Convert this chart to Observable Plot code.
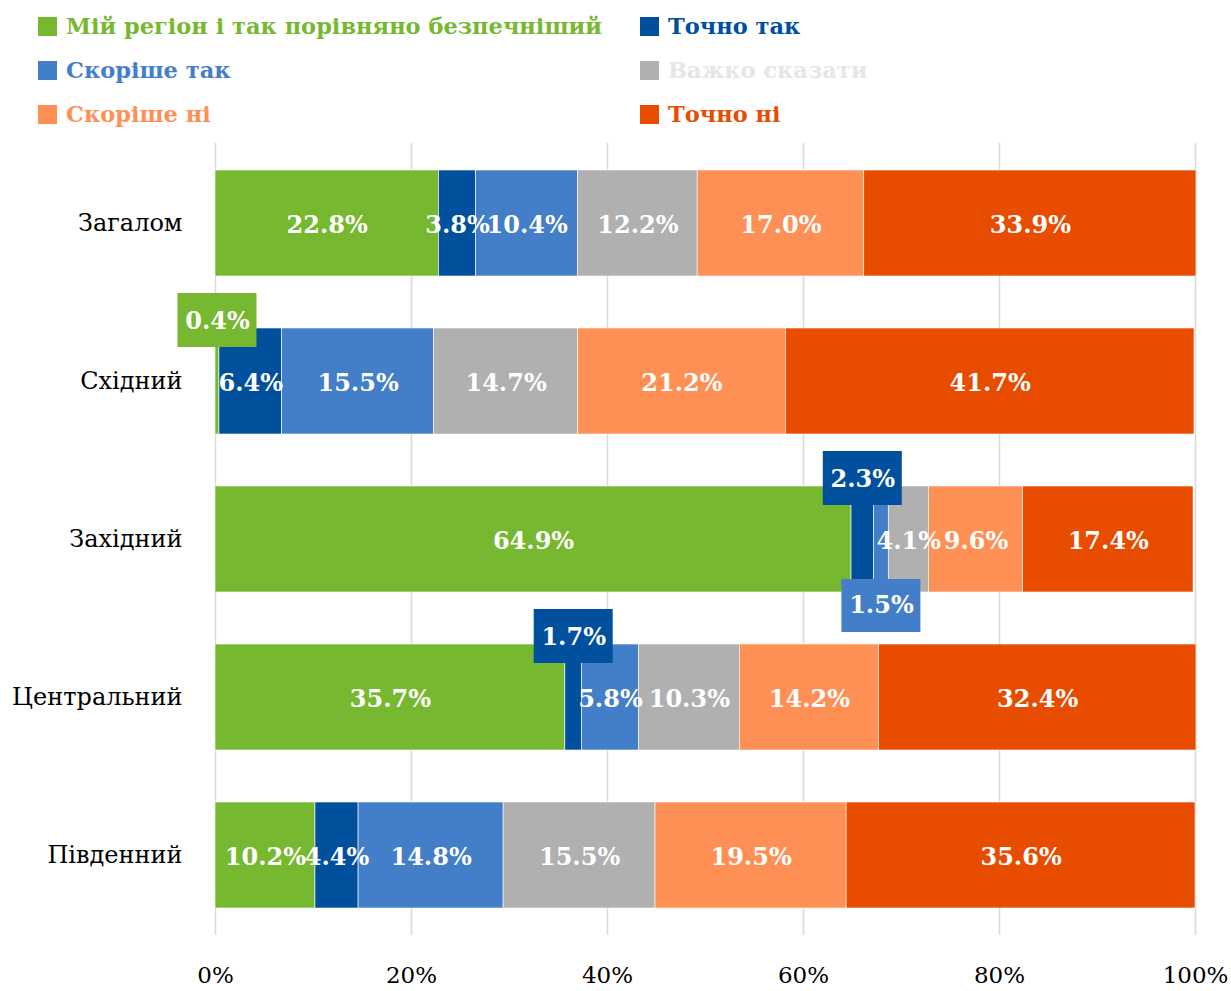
<!DOCTYPE html>
<html><head><meta charset="utf-8">
<script src="https://cdn.jsdelivr.net/npm/d3@7"></script>
<script src="https://cdn.jsdelivr.net/npm/@observablehq/plot@0.6"></script>
<style>
body{margin:0;background:#fff;font-family:"DejaVu Serif",serif;}
#legend{position:relative;height:140px;width:1231px;}
.item{position:absolute;display:flex;align-items:center;font-weight:bold;font-size:22.5px;white-space:nowrap;height:26px;}
.sw{width:19px;height:19px;margin-right:9px;flex:none;}
#chart svg{display:block;}
</style></head><body>
<div id="legend"></div><div id="chart"></div>
<script>
const regions = ["Загалом", "Східний", "Західний", "Центральний", "Південний"];
const answers = ["Мій регіон і так порівняно безпечніший", "Точно так", "Скоріше так", "Важко сказати", "Скоріше ні", "Точно ні"];
const colors = ["#76b82f", "#00509d", "#437ec8", "#b0b0b0", "#ff9055", "#e84c00"];
const legendTextColors = ["#76b82f", "#00509d", "#437ec8", "#e6e6e6", "#ff9055", "#e84c00"];

const myRegionSafer = [22.8, 0.4, 64.9, 35.7, 10.2];
const definitelyYes = [3.8, 6.4, 2.3, 1.7, 4.4];
const ratherYes = [10.4, 15.5, 1.5, 5.8, 14.8];
const hardToSay = [12.2, 14.7, 4.1, 10.3, 15.5];
const ratherNo = [17.0, 21.2, 9.6, 14.2, 19.5];
const definitelyNo = [33.9, 41.7, 17.4, 32.4, 35.6];
const series = [myRegionSafer, definitelyYes, ratherYes, hardToSay, ratherNo, definitelyNo];

// labels shown in callout boxes instead of inside the segment
const calloutsAbove = [["Східний", "Мій регіон і так порівняно безпечніший"], ["Західний", "Точно так"], ["Центральний", "Точно так"]];
const calloutsBelow = [["Західний", "Скоріше так"]];
const xTicks = [0, 20, 40, 60, 80, 100];

// legend (3 rows x 2 columns)
const legend = document.getElementById("legend");
answers.forEach((a, i) => {
  const row = Math.floor(i / 2), col = i % 2;
  const d = document.createElement("div");
  d.className = "item";
  d.style.left = (col === 0 ? 38 : 640) + "px";
  d.style.top = (13 + row * 44) + "px";
  d.style.color = legendTextColors[i];
  d.innerHTML = `<span class="sw" style="background:${colors[i]}"></span>${a}`;
  legend.appendChild(d);
});

// build stacked rows
const rows = [];
regions.forEach((r, ri) => {
  let acc = 0;
  answers.forEach((a, ai) => {
    const v = series[ai][ri];
    rows.push({region: r, answer: a, value: v, x1: acc, x2: acc + v, xc: acc + v / 2});
    acc += v;
  });
});
const isIn = (list) => (d) => list.some(([r, a]) => r === d.region && a === d.answer);
const above = rows.filter(isIn(calloutsAbove));
const below = rows.filter(isIn(calloutsBelow));
const inside = rows.filter(d => !isIn(calloutsAbove)(d) && !isIn(calloutsBelow)(d));
const fmt = d => d.value.toFixed(1) + "%";

const chart = Plot.plot({
  width: 1231,
  height: 851,
  marginTop: 3,
  marginBottom: 56,
  marginLeft: 215,
  marginRight: 36,
  style: {fontFamily: "DejaVu Serif, serif", color: "#000", background: "#fff"},
  x: {domain: [0, 100], ticks: xTicks, tickFormat: d => d + "%"},
  y: {domain: regions, paddingInner: 0.33, paddingOuter: 0.165},
  color: {domain: answers, range: colors},
  marks: [
    Plot.gridX(xTicks, {stroke: "#d9d9d9", strokeWidth: 1.5, strokeOpacity: 1}),
    Plot.axisX({ticks: xTicks, tickFormat: d => d + "%", tickSize: 0, tickPadding: 31, fontSize: 23, label: null}),
    Plot.axisY({tickSize: 0, tickPadding: 33, fontSize: 24, label: null}),
    Plot.barX(rows, {x1: "x1", x2: "x2", y: "region", fill: "answer", stroke: "#fff", strokeWidth: 0.6}),
    Plot.text(inside, {x: "xc", y: "region", text: fmt, fill: "#fff", fontWeight: "bold", fontSize: 24, dy: 2}),
    Plot.rect(above, {x1: "xc", x2: "xc", y: "region", fill: "answer", insetLeft: -39.5, insetRight: -39.5, insetTop: -35, insetBottom: 87}),
    Plot.rect(below, {x1: "xc", x2: "xc", y: "region", fill: "answer", insetLeft: -39.5, insetRight: -39.5, insetTop: 93, insetBottom: -40}),
    Plot.text(above, {x: "xc", y: "region", text: fmt, fill: "#fff", fontWeight: "bold", fontSize: 24, dy: -60}),
    Plot.text(below, {x: "xc", y: "region", text: fmt, fill: "#fff", fontWeight: "bold", fontSize: 24, dy: 66})
  ]
});
document.getElementById("chart").appendChild(chart);
</script>
</body></html>
